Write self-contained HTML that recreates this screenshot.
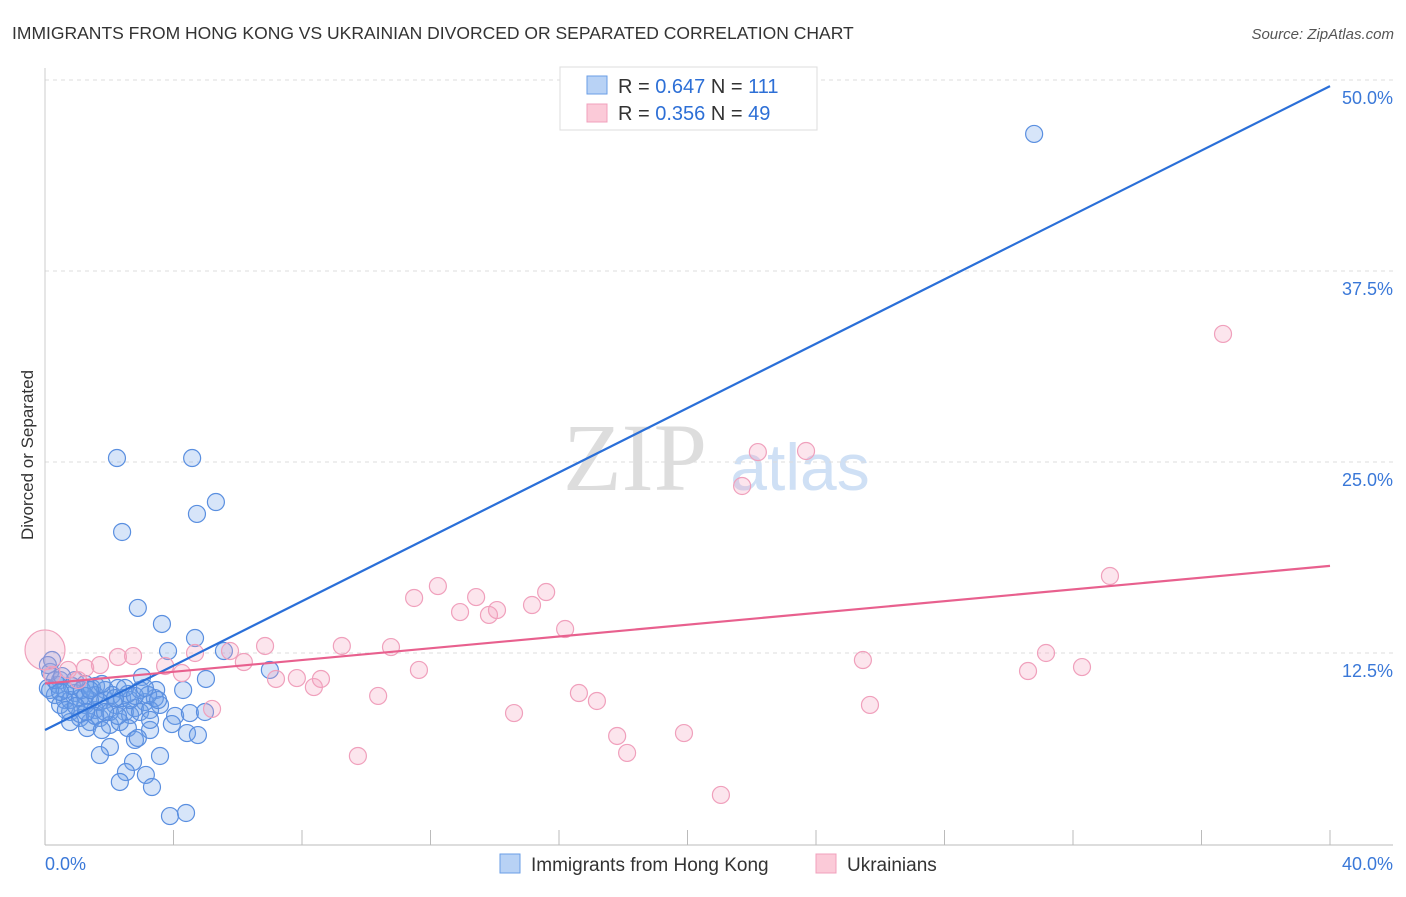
<!DOCTYPE html>
<html><head><meta charset="utf-8"><style>
body{margin:0;background:#fff;font-family:"Liberation Sans",sans-serif}
svg text{font-family:"Liberation Sans",sans-serif}
</style></head><body>
<svg id="c" width="1406" height="892">
<text x="12" y="39" font-size="17.5" fill="#333">IMMIGRANTS FROM HONG KONG VS UKRAINIAN DIVORCED OR SEPARATED CORRELATION CHART</text>
<text x="1394" y="39" font-size="15" fill="#555" text-anchor="end" font-style="italic">Source: ZipAtlas.com</text>
<text x="0" y="0" transform="translate(33,455) rotate(-90)" font-size="17" fill="#333" text-anchor="middle">Divorced or Separated</text>
<g><text x="635" y="490" font-size="96" fill="#ddd" text-anchor="middle" font-family="Liberation Serif" style="font-family:'Liberation Serif',serif">ZIP</text><text x="800" y="490" font-size="66" fill="#cfe0f5" text-anchor="middle">atlas</text></g>
<g id="grid"></g><g id="axes"></g><g id="pts"></g><g id="lines"></g>
<g>
<rect x="560" y="67" width="257" height="63" fill="#fff" stroke="#ddd"/>
<rect x="587" y="76" width="20" height="18" fill="#b8d2f5" stroke="#6a9ee6"/>
<rect x="587" y="104" width="20" height="18" fill="#fbcad8" stroke="#f0a0bc"/>
<text x="618" y="93" font-size="20" fill="#333">R = <tspan fill="#2d6fd6">0.647</tspan>   N = <tspan fill="#2d6fd6">111</tspan></text>
<text x="618" y="120" font-size="20" fill="#333">R = <tspan fill="#2d6fd6">0.356</tspan>   N = <tspan fill="#2d6fd6">49</tspan></text>
</g>
<g>
<rect x="500" y="854" width="20" height="19" fill="#b8d2f5" stroke="#6a9ee6"/>
<text x="531" y="871" font-size="19" fill="#333">Immigrants from Hong Kong</text>
<rect x="816" y="854" width="20" height="19" fill="#fbcad8" stroke="#f0a0bc"/>
<text x="847" y="871" font-size="19" fill="#333">Ukrainians</text>
</g>
</svg>
<script>
const yTicks=[12.5,25,37.5,50];
const xTickLabels=["0.0%","40.0%"];
const blueX=[2.24,4.58,2.40,5.32,4.73,30.79,2.89,3.64,4.67,3.83,5.57,7.00,5.01,3.02,4.30,3.46,2.27,1.59,0.47,0.16,0.09,0.31,0.62,0.93,1.25,1.56,1.87,2.18,2.49,2.80,3.11,3.42,3.58,0.78,1.09,1.40,1.71,2.02,2.33,2.65,2.96,3.27,1.31,1.77,2.58,3.27,4.05,4.51,4.98,3.95,4.42,4.76,2.80,2.89,2.02,1.71,3.58,2.74,2.52,3.14,2.33,3.33,3.89,4.39,0.22,0.09,0.40,0.62,0.93,1.25,1.56,1.87,2.09,2.40,2.65,0.47,0.78,1.09,1.40,1.71,2.02,2.27,2.58,2.96,3.21,3.52,0.16,0.31,0.53,0.84,1.15,1.46,1.77,0.78,1.09,1.25,1.56,1.87,2.18,2.49,2.80,3.11,3.27,1.40,0.47,0.65,0.96,1.28];
const blueY=[25.26,25.26,20.42,22.38,21.60,46.47,15.45,14.40,13.48,12.63,12.63,11.39,10.80,10.93,10.08,10.08,10.21,10.34,10.73,11.26,10.21,9.75,9.42,9.88,9.10,8.77,9.42,9.10,8.64,8.90,9.29,9.55,9.10,8.64,8.25,7.98,8.25,7.79,7.98,8.44,8.64,8.77,7.59,7.46,7.59,7.46,8.38,8.57,8.64,7.85,7.26,7.13,6.81,6.94,6.35,5.82,5.76,5.37,4.71,4.52,4.06,3.73,1.83,2.03,12.04,11.71,10.41,10.08,10.73,10.47,9.75,10.08,9.75,9.55,9.42,9.10,9.42,9.55,9.42,9.29,8.64,8.38,9.82,10.08,9.75,9.42,10.08,10.73,10.99,10.34,10.08,10.21,10.47,7.98,8.51,9.69,8.38,8.64,9.55,10.21,9.69,10.21,8.12,10.08,9.95,8.77,9.03,8.64];
const pinkX=[0,0.22,0.72,1.25,1.71,2.27,2.74,3.74,4.26,4.67,5.20,5.76,6.19,6.85,7.19,7.84,8.37,8.59,9.24,10.37,10.77,11.49,11.64,12.23,12.92,13.42,13.82,14.07,14.60,15.16,15.60,16.19,16.62,17.18,17.81,18.12,19.89,21.04,21.70,22.19,23.69,25.46,25.68,30.60,31.16,32.28,33.15,36.67,9.74,1.03];
const pinkY=[12.70,11.06,11.39,11.52,11.71,12.24,12.30,11.65,11.19,12.50,8.84,12.63,11.91,12.96,10.80,10.86,10.27,10.80,12.96,9.69,12.89,16.10,11.39,16.88,15.18,16.16,14.99,15.31,8.57,15.64,16.49,14.07,9.88,9.36,7.07,5.96,7.26,3.21,23.43,25.65,25.72,12.04,9.10,11.32,12.50,11.58,17.54,33.38,5.76,10.73];
const blueLine=[7.46,49.6];
const pinkLine=[10.5,18.2];
const NS="http://www.w3.org/2000/svg";
const X0=45,X1=1330,Y0=844;
const sx=v=>X0+(v/40)*(X1-X0);
const sy=v=>Y0-(v/12.5)*191;
function mk(tag,attrs,parent){const e=document.createElementNS(NS,tag);for(const k in attrs)e.setAttribute(k,attrs[k]);document.getElementById(parent).appendChild(e);return e;}
yTicks.forEach(t=>{
 const g=mk('line',{x1:X0,x2:1393,y1:sy(t),y2:sy(t),stroke:'#ddd','stroke-dasharray':'4,4'},'grid');
 
 
 const l=mk('text',{x:1393,y:sy(t)+24,'font-size':18,fill:'#3a78d8','text-anchor':'end'},'grid');
 l.textContent=t.toFixed(1)+'%';
 
 
});
const ax=mk('line',{x1:X0,x2:1393,y1:845,y2:845,stroke:'#bbb'},'axes');


const ay=mk('line',{x1:X0,x2:X0,y1:68,y2:845,stroke:'#ccc'},'axes');


for(let i=0;i<=10;i++){const t=mk('line',{x1:sx(i*4),x2:sx(i*4),y1:830,y2:845,stroke:'#bbb'},'axes');
 
 }
[[0,'start',xTickLabels[0]],[40,'end',xTickLabels[1]]].forEach(([v,a,s])=>{
 const l=mk('text',{x:v===0?sx(v):1393,y:870,'font-size':18,fill:'#3a78d8','text-anchor':a},'axes');
 l.textContent=s;
 
 
});
blueX.forEach((x,i)=>{
 const c=mk('circle',{cx:sx(x),cy:sy(blueY[i]),r:8.5,fill:'rgba(110,160,235,0.28)',stroke:'#5a8fe0','stroke-width':1.2},'pts');
 
 
});
pinkX.forEach((x,i)=>{
 const c=mk('circle',{cx:sx(x),cy:sy(pinkY[i]),r:i===0?20:8.5,fill:'rgba(245,160,190,0.28)',stroke:'#f0a0bc','stroke-width':1.2},'pts');
 
 
});
const bl=mk('line',{x1:sx(0),y1:sy(blueLine[0]),x2:sx(40),y2:sy(blueLine[1]),stroke:'#2a6fd8','stroke-width':2.2},'lines');


const pl=mk('line',{x1:sx(0),y1:sy(pinkLine[0]),x2:sx(40),y2:sy(pinkLine[1]),stroke:'#e8608e','stroke-width':2.2},'lines');


</script>
</body></html>
